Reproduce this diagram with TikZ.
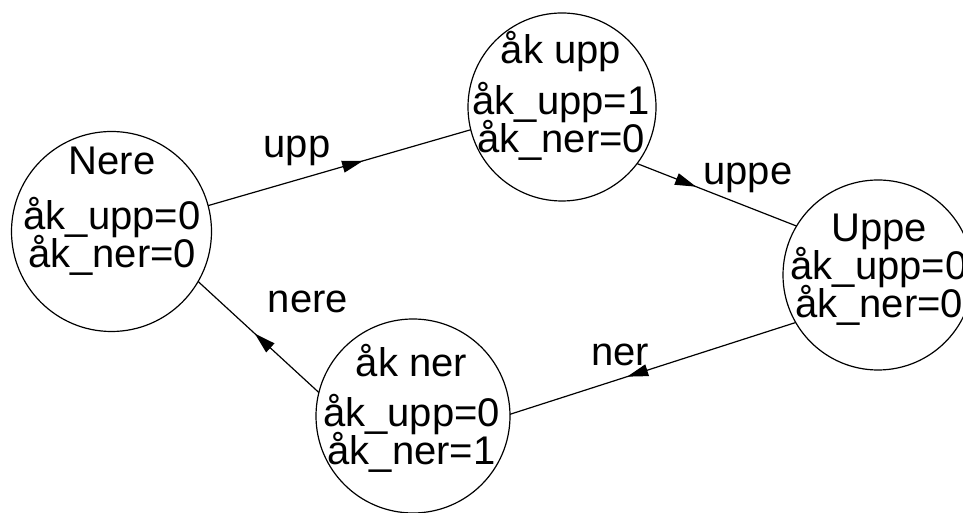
\documentclass[tikz,border=0pt]{standalone}
\usepackage{fontspec}
\setmainfont{Liberation Sans}
\usetikzlibrary{arrows.meta,decorations.markings}
\newcommand{\stFont}{\fontsize{40}{38}\selectfont\lineskiplimit-60pt\relax}
\tikzstyle{nS}=[circle,draw,line width=1.2pt,inner sep=0pt,outer sep=0pt]
\tikzstyle{tS}=[anchor=base,inner sep=0pt,align=center,font=\stFont]
\tikzstyle{lS}=[anchor=base,inner sep=0pt,font=\stFont]
\tikzset{eS/.style={line width=1.2pt,postaction={decorate},
  decoration={markings,mark=at position #1 with {\arrow{Triangle[length=21pt,width=12pt]}}}}}

\begin{document}
\begin{tikzpicture}[x=1pt,y=1pt]
                \useasboundingbox (0,0) rectangle (963,513);
                \clip (0,0) rectangle (963,513);
                % states
                \draw (111.5,281.5) node[nS,minimum size=200pt] (n0) {};
                \draw (562,406) node[nS,minimum size=188pt] (n1) {};
                \draw (878,238) node[nS,minimum size=190pt] (n2) {};
                \draw (413,97) node[nS,minimum size=194pt] (n3) {};
                % state texts (base = last line)
                \draw (112,245) node[tS] (t0) {Nere\\[17pt] åk\_upp=0\\ åk\_ner=0};
                \draw (561,360) node[tS] (t1) {åk upp\\[13pt] åk\_upp=1\\ åk\_ner=0};
                \draw (879,195) node[tS] (t2) {Uppe\\ åk\_upp=0\\ åk\_ner=0};
                \draw (411.5,48) node[tS] (t3) {åk ner\\[12pt] åk\_upp=0\\ åk\_ner=1};
                % transitions
                \draw[eS=0.59] (n0.15) -- (n1.194);
                \draw[eS=0.37] (n1.-37) -- (n2.149);
                \draw[eS=0.59] (n2.210) -- (n3.1);
                \draw[eS=0.53] (n3.166) -- (n0.-30);
                \draw (297,355) node[lS] (l01) {upp};
                \draw (748,328) node[lS] (l12) {uppe};
                \draw (620,147) node[lS] (l23) {ner};
                \draw (308,200) node[lS] (l30) {nere};
\end{tikzpicture}
\end{document}
